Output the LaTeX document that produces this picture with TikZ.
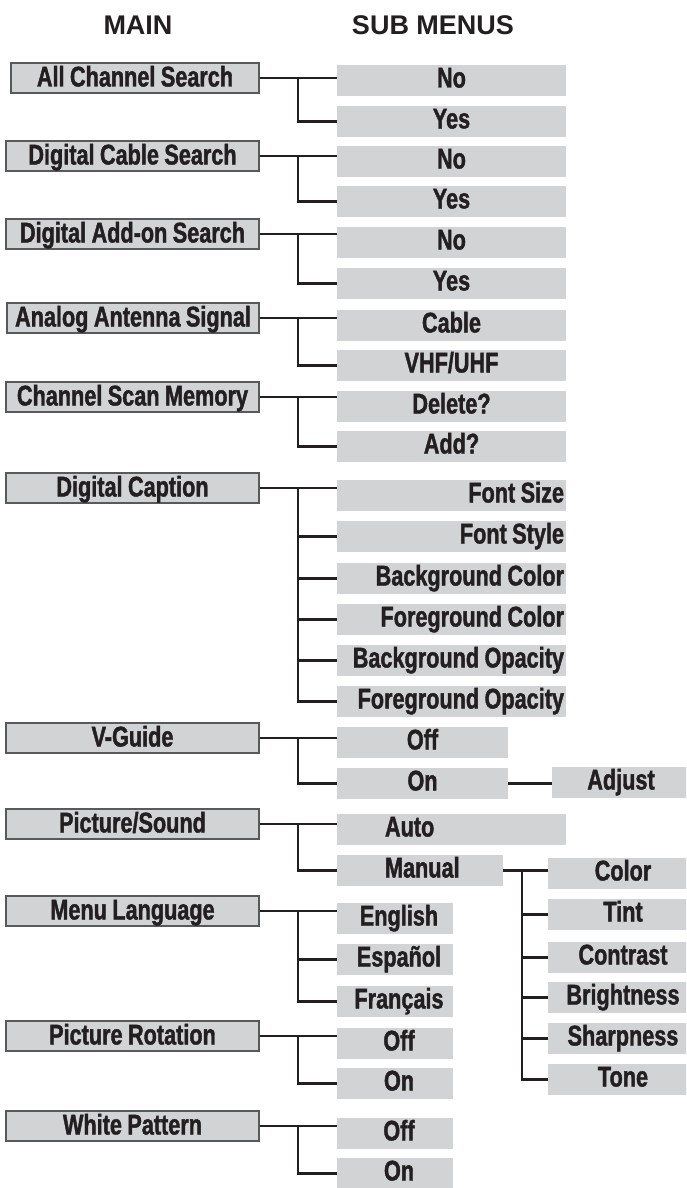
\documentclass[tikz,border=0pt]{standalone}
\usepackage{fontspec}
\setmainfont{Liberation Sans}
\newfontfamily\condfont{Liberation Sans}[FakeStretch=0.76, FakeBold=1.4, WordSpace=0.9]
\usetikzlibrary{calc}
\definecolor{boxgray}{HTML}{D1D3D4}
\definecolor{ink}{HTML}{231F20}
\definecolor{edgegray}{HTML}{58595B}
\newcommand{\rtxt}[1]{\makebox[225pt][r]{#1}}
\newcommand{\ltxt}[2]{\makebox[#1][l]{\hspace*{48pt}#2}}
\tikzset{
  mainbox/.style={draw=edgegray, line width=1.4pt, fill=boxgray, minimum height=30pt,
    inner sep=0pt, text height=23.5pt, text depth=6.5pt, text=ink,
    font=\condfont\bfseries\fontsize{28.5}{30}\selectfont},
  subbox/.style={fill=boxgray, minimum height=31pt, inner sep=0pt,
    text height=22.5pt, text depth=8.5pt, text=ink,
    font=\condfont\bfseries\fontsize{28.5}{30}\selectfont},
  conn/.style={draw=ink, line width=2.4pt},
  headtext/.style={text=ink, inner sep=0pt, anchor=base, font=\bfseries\fontsize{27}{30}\selectfont}
}
\begin{document}
\begin{tikzpicture}[x=1pt,y=-1pt]
\clip (0,0) rectangle (686,1188);
\useasboundingbox (0,0) rectangle (686,1188);

% headers
\node[headtext] (hmain) at (138,35) {MAIN};
\node[headtext] (hsub) at (433,35) {SUB MENUS};

% main boxes
\node[mainbox, minimum width=248pt] (m1) at (135,78) {All Channel Search};
\node[mainbox, minimum width=253pt] (m2) at (132.5,156) {Digital Cable Search};
\node[mainbox, minimum width=253pt] (m3) at (132.5,234) {Digital Add-on Search};
\node[mainbox, minimum width=252pt] (m4) at (133,318) {Analog Antenna Signal};
\node[mainbox, minimum width=253pt] (m5) at (132.5,397) {Channel Scan Memory};
\node[mainbox, minimum width=253pt] (m6) at (132.5,488) {Digital Caption};
\node[mainbox, minimum width=253pt] (m7) at (132.5,738) {V-Guide};
\node[mainbox, minimum width=253pt] (m8) at (132.5,824) {Picture/Sound};
\node[mainbox, minimum width=253pt] (m9) at (132.5,911) {Menu Language};
\node[mainbox, minimum width=253pt] (m10) at (132.5,1036) {Picture Rotation};
\node[mainbox, minimum width=253pt] (m11) at (132.5,1126) {White Pattern};

% sub boxes
\node[subbox, minimum width=229pt] (s1a) at (451.5,80.5) {No};
\node[subbox, minimum width=229pt] (s1b) at (451.5,121.5) {Yes};
\node[subbox, minimum width=229pt] (s2a) at (451.5,161.5) {No};
\node[subbox, minimum width=229pt] (s2b) at (451.5,201.5) {Yes};
\node[subbox, minimum width=229pt] (s3a) at (451.5,242.5) {No};
\node[subbox, minimum width=229pt] (s3b) at (451.5,283.5) {Yes};
\node[subbox, minimum width=229pt] (s4a) at (451.5,325.5) {Cable};
\node[subbox, minimum width=229pt] (s4b) at (451.5,365.5) {VHF/UHF};
\node[subbox, minimum width=229pt] (s5a) at (451.5,406.5) {Delete?};
\node[subbox, minimum width=229pt] (s5b) at (451.5,446.5) {Add?};

\node[subbox, minimum width=229pt] (s6a) at (451.5,495.5) {\rtxt{Font Size}};
\node[subbox, minimum width=229pt] (s6b) at (451.5,536.5) {\rtxt{Font Style}};
\node[subbox, minimum width=229pt] (s6c) at (451.5,578.5) {\rtxt{Background Color}};
\node[subbox, minimum width=229pt] (s6d) at (451.5,619.5) {\rtxt{Foreground Color}};
\node[subbox, minimum width=229pt] (s6e) at (451.5,660.5) {\rtxt{Background Opacity}};
\node[subbox, minimum width=229pt] (s6f) at (451.5,701.5) {\rtxt{Foreground Opacity}};

\node[subbox, minimum width=171pt] (s7a) at (422.5,742.5) {Off};
\node[subbox, minimum width=171pt] (s7b) at (422.5,783.5) {On};
\node[subbox, minimum width=138pt] (adj) at (621,782.5) {Adjust};

\node[subbox, minimum width=229pt] (s8a) at (451.5,829.5) {\ltxt{229pt}{Auto}};
\node[subbox, minimum width=166pt] (s8b) at (420,870.5) {\ltxt{166pt}{Manual}};

\node[subbox, minimum width=150pt] (c1) at (623,873.5) {Color};
\node[subbox, minimum width=150pt] (c2) at (623,914.5) {Tint};
\node[subbox, minimum width=150pt] (c3) at (623,957.5) {Contrast};
\node[subbox, minimum width=150pt] (c4) at (623,997.5) {Brightness};
\node[subbox, minimum width=150pt] (c5) at (623,1038.5) {Sharpness};
\node[subbox, minimum width=150pt] (c6) at (623,1079.5) {Tone};

\node[subbox, minimum width=116pt] (s9a) at (395,918.5) {\hspace*{8pt}English};
\node[subbox, minimum width=116pt] (s9b) at (395,959.5) {\hspace*{8pt}Español};
\node[subbox, minimum width=116pt] (s9c) at (395,1001.5) {\hspace*{8pt}Français};
\node[subbox, minimum width=116pt] (s10a) at (395,1043.5) {\hspace*{8pt}Off};
\node[subbox, minimum width=116pt] (s10b) at (395,1083.5) {\hspace*{8pt}On};
\node[subbox, minimum width=116pt] (s11a) at (395,1133.5) {\hspace*{8pt}Off};
\node[subbox, minimum width=116pt] (s11b) at (395,1173.5) {\hspace*{8pt}On};

% connectors: two-way branches
\foreach \m/\a/\b in {m1/s1a/s1b, m2/s2a/s2b, m3/s3a/s3b, m4/s4a/s4b, m5/s5a/s5b,
                      m7/s7a/s7b, m8/s8a/s8b, m10/s10a/s10b, m11/s11a/s11b}{
  \draw[conn] (\m.east) -- (\m.east -| \a.west);
  \path (\m.east) -- (\m.east -| \a.west) coordinate[pos=0.5] (j\m);
  \draw[conn] (j\m) |- (\b.west);
}
% Digital Caption
\draw[conn] (m6.east) -- (m6.east -| s6a.west);
\path (m6.east) -- (m6.east -| s6a.west) coordinate[pos=0.5] (jm6);
\draw[conn] (jm6) |- (s6f.west);
\foreach \s in {s6b,s6c,s6d,s6e}{ \draw[conn] (jm6 |- \s.west) -- (\s.west); }
% Menu Language
\draw[conn] (m9.east) -- (m9.east -| s9a.west);
\path (m9.east) -- (m9.east -| s9a.west) coordinate[pos=0.5] (jm9);
\draw[conn] (jm9) |- (s9c.west);
\draw[conn] (jm9 |- s9b.west) -- (s9b.west);
% V-Guide On -> Adjust
\draw[conn] (s7b.east) -- (s7b.east -| adj.west);
% Manual -> picture settings
\draw[conn] (s8b.east) -- (s8b.east -| c1.west);
\path (s8b.east) -- (s8b.east -| c1.west) coordinate[pos=0.42] (jman);
\draw[conn] (jman) |- (c6.west);
\foreach \s in {c2,c3,c4,c5}{ \draw[conn] (jman |- \s.west) -- (\s.west); }
\end{tikzpicture}
\end{document}
